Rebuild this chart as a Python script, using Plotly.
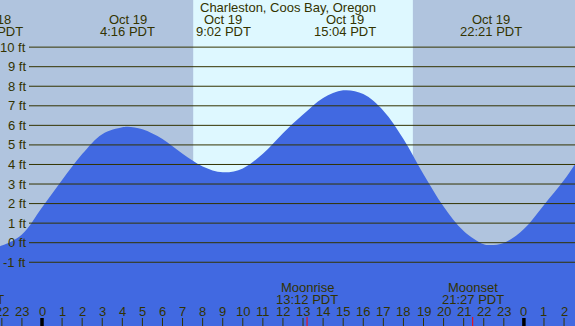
import plotly.graph_objects as go

# ---- data (hours relative to Oct 19 00:00 PDT) ----
tide_hours = [-2.49, -2, -1, 0, 1, 2, 3, 4, 4.27, 5, 6, 7, 8, 9, 10, 11, 12, 13, 14, 15,
              16, 17, 18, 19, 20, 21, 22, 22.35, 23, 24, 25, 26, 26.6]
tide_feet = [-0.25, -0.15, 0.42, 1.8, 3.2, 4.53, 5.55, 5.9, 5.93, 5.8, 5.3, 4.55, 3.9, 3.6,
             3.8, 4.55, 5.6, 6.55, 7.4, 7.79, 7.6, 6.75, 5.3, 3.5, 1.85, 0.6, -0.08, -0.12,
             -0.02, 0.7, 1.93, 3.2, 4.1]

extreme_hours = [-2.49, 4.27, 9.03, 15.07, 22.35]
extreme_dates = ["Oct 18", "Oct 19", "Oct 19", "Oct 19", "Oct 19"]
extreme_times = ["21:31 PDT", "4:16 PDT", "9:02 PDT", "15:04 PDT", "22:21 PDT"]

sunrise_hour = 7.53
sunset_hour = 18.47

moon_hours = [-3.45, 13.2, 21.45]
moon_events = ["Moonset", "Moonrise", "Moonset"]
moon_times = ["20:33 PDT", "13:12 PDT", "21:27 PDT"]

grid_feet = [-1, 0, 1, 2, 3, 4, 5, 6, 7, 8, 9, 10]
hour_ticks = list(range(-2, 27))
midnight_hours = [0, 24]
title = "Charleston, Coos Bay, Oregon"

# ---- layout constants ----
W, H = 575, 326
X_RANGE = [-2.092, 26.545]
Y_RANGE = [-4.26, 12.41]
TXT = "#333300"
FONT = "Liberation Sans, Arial, sans-serif"


def py(pix):
    """pixel row -> paper y"""
    return 1 - pix / H


def px(hour):
    """hour on the x axis -> paper x (lets labels hang off the plot edges)"""
    return (hour - X_RANGE[0]) / (X_RANGE[1] - X_RANGE[0])


fig = go.Figure()
fig.add_trace(go.Scatter(x=[X_RANGE[0] - 1, X_RANGE[1] + 1], y=[Y_RANGE[0] - 1] * 2,
                         mode="lines", line=dict(width=0), hoverinfo="skip",
                         showlegend=False))
fig.add_trace(go.Scatter(x=tide_hours, y=tide_feet, mode="lines",
                         line=dict(width=0, shape="spline", color="#4169E1"),
                         fill="tonexty", fillcolor="#4169E1", showlegend=False))

shapes = []
# daylight band
shapes.append(dict(type="rect", xref="x", yref="paper", x0=sunrise_hour, x1=sunset_hour,
                   y0=0, y1=1, fillcolor="#DEF8FF", line=dict(width=0), layer="below"))
# gridlines
for f in grid_feet:
    shapes.append(dict(type="line", xref="paper", yref="y", x0=29 / W, x1=1, y0=f, y1=f,
                       line=dict(color=TXT, width=1), layer="above"))
# hour ticks
for h in hour_ticks:
    if h in midnight_hours:
        continue
    shapes.append(dict(type="line", xref="x", yref="paper", x0=h, x1=h, y0=0, y1=py(318),
                       line=dict(color=TXT, width=1), layer="above"))
for h in midnight_hours:
    shapes.append(dict(type="line", xref="x", yref="paper", x0=h, x1=h, y0=0, y1=py(318),
                       line=dict(color="#000000", width=3.5), layer="above"))
for h in moon_hours:
    shapes.append(dict(type="line", xref="x", yref="paper", x0=h, x1=h, y0=0, y1=py(317),
                       line=dict(color="#FF0000", width=1), layer="above"))

ann = []
def text(x, y, s, xanchor="center"):
    ann.append(dict(x=x, y=y, xref="paper", yref="paper", text=s, showarrow=False,
                    xanchor=xanchor, yanchor="middle",
                    font=dict(family=FONT, size=13, color=TXT)))

text(0.5, py(7.5), title)
for h, d, t in zip(extreme_hours, extreme_dates, extreme_times):
    text(px(h), py(19.5), d)
    text(px(h), py(31.5), t)
for f in grid_feet:
    ann.append(dict(x=27.5 / W, y=f, xref="paper", yref="y", text=f"{f} ft",
                    showarrow=False, xanchor="right", yanchor="middle",
                    font=dict(family=FONT, size=13, color=TXT)))
for h in hour_ticks:
    text(px(h), py(311.5), str(h % 24))
for h, e, t in zip(moon_hours, moon_events, moon_times):
    text(px(h), py(287.5), e)
    text(px(h), py(299.5), t)

fig.update_layout(
    width=W, height=H, margin=dict(l=0, r=0, t=0, b=0),
    paper_bgcolor="#B0C4DE", plot_bgcolor="rgba(0,0,0,0)",
    xaxis=dict(range=X_RANGE, visible=False, fixedrange=True),
    yaxis=dict(range=Y_RANGE, visible=False, fixedrange=True),
    shapes=shapes, annotations=ann, showlegend=False,
)
fig.write_html("out.html", config={"displayModeBar": False},
               post_script="document.body.style.margin='0';document.body.style.overflow='hidden';")
